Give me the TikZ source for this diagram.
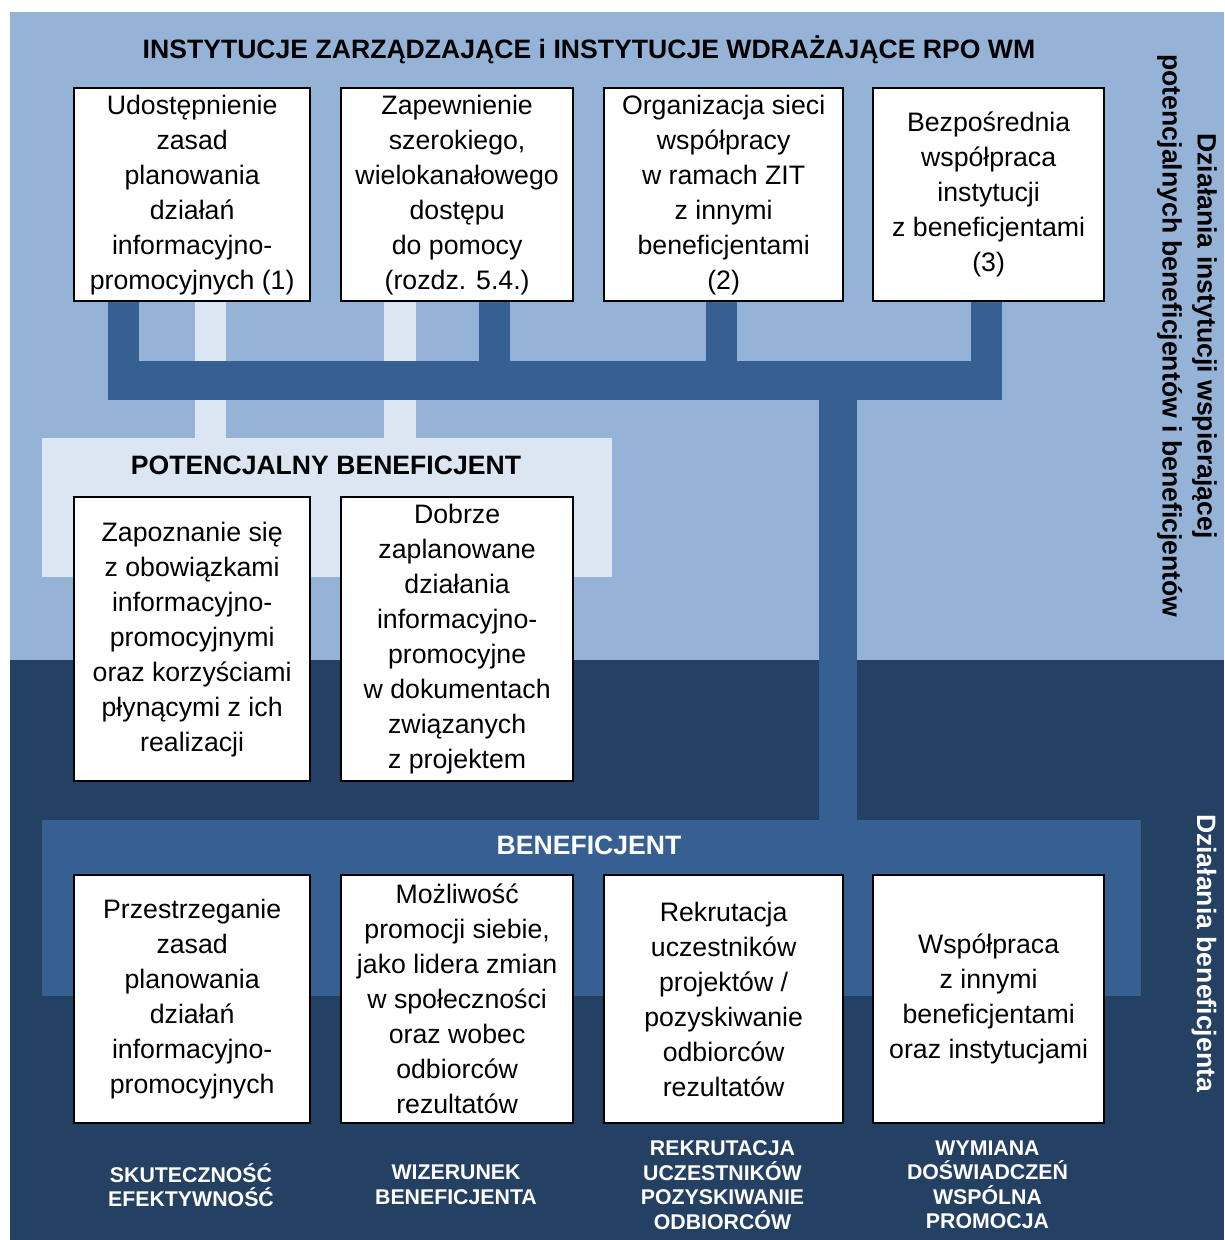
\documentclass[tikz,border=0pt]{standalone}
\usepackage{fontspec}
\setmainfont{Liberation Sans}
\definecolor{lightbg}{HTML}{95B3D7}
\definecolor{palebg}{HTML}{DCE6F2}
\definecolor{midblue}{HTML}{366092}
\definecolor{navy}{HTML}{244062}
\pgfdeclarelayer{back}
\pgfdeclarelayer{conn}
\pgfsetlayers{back,conn,main}
\begin{document}
\begin{tikzpicture}[x=1pt,y=-1pt,
  box/.style={draw=black, line width=2.3pt, fill=white, inner sep=0pt, align=center,
    font=\fontsize{26.7}{35}\selectfont, anchor=north west},
  band/.style={inner sep=0pt, anchor=north west},
  bandtitle/.style={font=\bfseries\fontsize{26.6}{35}\selectfont, inner sep=0pt},
  sidetext/.style={font=\bfseries\fontsize{26.6}{35}\selectfont, align=center, rotate=-90, inner sep=0pt},
  outcome/.style={font=\bfseries\fontsize{21.3}{24.5}\selectfont, align=center, text=white, inner sep=0pt},
  darkconn/.style={draw=midblue, line width=31pt},
  paleconn/.style={draw=palebg, line width=31.5pt}]
\useasboundingbox (0,0) rectangle (1224,1240);
% backgrounds and bands
\begin{pgfonlayer}{back}
\fill[white] (0,0) rectangle (1224,1240);
\fill[lightbg] (10,12) rectangle (1224,660);
\fill[navy] (10,660) rectangle (1224,1240);
\node[band, fill=palebg, minimum width=570, minimum height=139] (potband) at (42,438) {};
\node[band, fill=midblue, minimum width=1099, minimum height=176] (benband) at (42,820) {};
\end{pgfonlayer}
% titles
\node[bandtitle] (maintitle) at (589,50) {INSTYTUCJE ZARZĄDZAJĄCE i INSTYTUCJE WDRAŻAJĄCE RPO WM};
\node[bandtitle] (pottitle) at (326,465) {POTENCJALNY BENEFICJENT};
\node[bandtitle, text=white] (bentitle) at (589,845) {BENEFICJENT};
% row 1 boxes
\node[box, minimum width=236, minimum height=213] (b1) at (73,87) {Udostępnienie\\zasad\\planowania\\działań\\informacyjno-\\promocyjnych (1)};
\node[box, minimum width=232, minimum height=213] (b2) at (340,87) {Zapewnienie\\szerokiego,\\wielokanałowego\\dostępu\\do pomocy\\(rozdz. 5.4.)};
\node[box, minimum width=239, minimum height=213] (b3) at (603,87) {Organizacja sieci\\współpracy\\w ramach ZIT\\z innymi\\beneficjentami\\(2)};
\node[box, minimum width=231, minimum height=213] (b4) at (872,87) {Bezpośrednia\\współpraca\\instytucji\\z beneficjentami\\(3)};
% row 2 boxes
\node[box, minimum width=236, minimum height=284] (b5) at (73,496) {Zapoznanie się\\z obowiązkami\\informacyjno-\\promocyjnymi\\oraz korzyściami\\płynącymi z ich\\realizacji};
\node[box, minimum width=232, minimum height=284] (b6) at (340,496) {Dobrze\\zaplanowane\\działania\\informacyjno-\\promocyjne\\w dokumentach\\związanych\\z projektem};
% row 3 boxes
\node[box, minimum width=236, minimum height=248] (b7) at (73,874) {Przestrzeganie\\zasad\\planowania\\działań\\informacyjno-\\promocyjnych};
\node[box, minimum width=232, minimum height=248] (b8) at (340,874) {Możliwość\\promocji siebie,\\jako lidera zmian\\w społeczności\\oraz wobec\\odbiorców\\rezultatów};
\node[box, minimum width=239, minimum height=248] (b9) at (603,874) {Rekrutacja\\uczestników\\projektów /\\pozyskiwanie\\odbiorców\\rezultatów};
\node[box, minimum width=231, minimum height=248] (b10) at (872,874) {Współpraca\\z innymi\\beneficjentami\\oraz instytucjami};
% connector coordinates
\coordinate (p1) at (210.5,0);
\coordinate (p2) at (400,0);
\coordinate (j1) at (123.5,380.5);
\coordinate (j2) at (494.5,380.5);
\coordinate (j3) at (721.5,380.5);
\coordinate (j4) at (986.5,380.5);
\coordinate (jL) at (108,380.5);
\coordinate (jR) at (1002,380.5);
\coordinate (jD) at (838,380.5);
\begin{pgfonlayer}{conn}
% pale connectors (behind the dark bar)
\draw[paleconn] (b1.south -| p1) -- (p1 |- potband.north);
\draw[paleconn] (b2.south -| p2) -- (p2 |- potband.north);
% dark connector tree
\draw[darkconn] (b1.south -| j1) -- (j1);
\draw[darkconn] (b2.south -| j2) -- (j2);
\draw[darkconn] (b3.south -| j3) -- (j3);
\draw[darkconn] (b4.south -| j4) -- (j4);
\draw[draw=midblue, line width=39pt] (jL) -- (jR);
\draw[draw=midblue, line width=38pt] (jD) -- (jD |- benband.north);
\end{pgfonlayer}
% outcomes
\node[outcome] (o1) at (191,1185) {SKUTECZNOŚĆ\\EFEKTYWNOŚĆ};
\node[outcome] (o2) at (456,1185) {WIZERUNEK\\BENEFICJENTA};
\node[outcome] (o3) at (722.5,1185) {REKRUTACJA\\UCZESTNIKÓW\\POZYSKIWANIE\\ODBIORCÓW};
\node[outcome] (o4) at (987.5,1185) {WYMIANA\\DOŚWIADCZEŃ\\WSPÓLNA\\PROMOCJA};
% side texts
\node[sidetext] (side1) at (1187,336) {Działania instytucji wspierającej\\potencjalnych beneficjentów i beneficjentów};
\node[sidetext, text=white] (side2) at (1204,953) {Działania beneficjenta};
\end{tikzpicture}
\end{document}
